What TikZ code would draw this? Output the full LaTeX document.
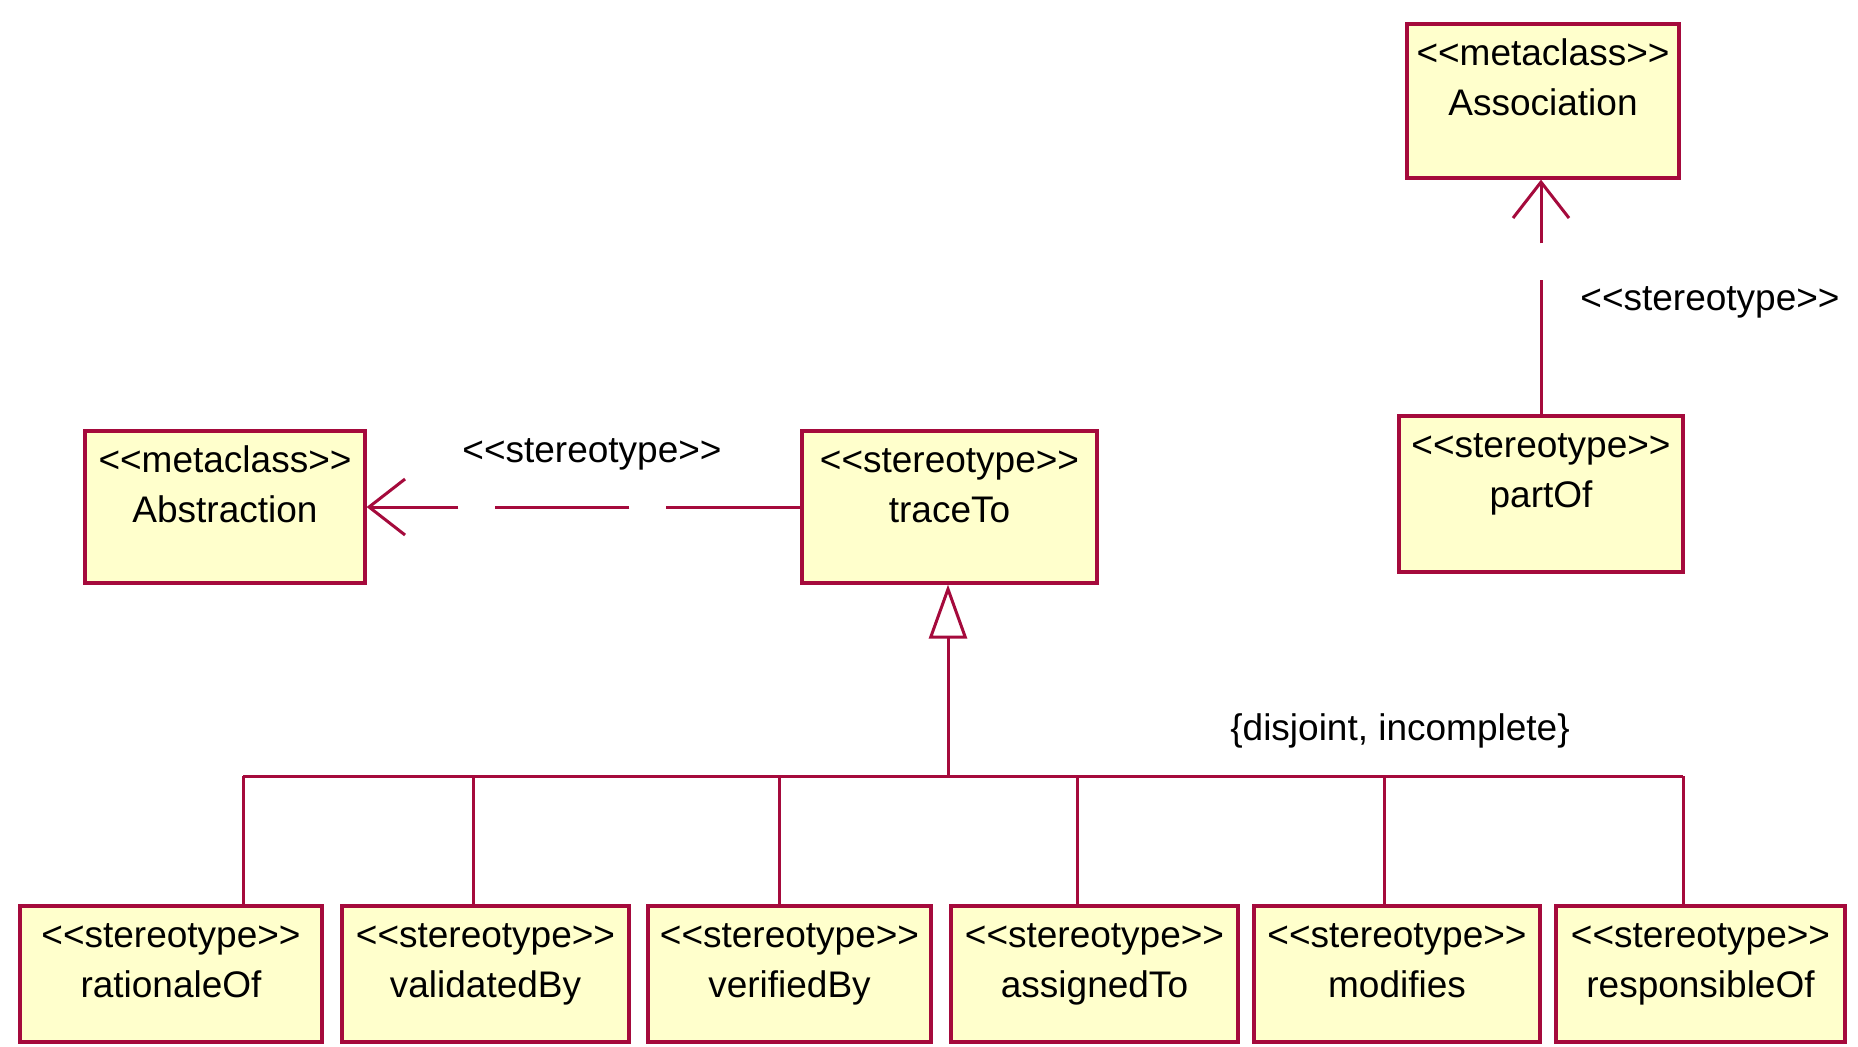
\documentclass[tikz,border=0pt]{standalone}
\usepackage{fontspec}
\setmainfont{Liberation Sans}
\usetikzlibrary{arrows.meta}
\definecolor{umlred}{RGB}{165,10,60}
\definecolor{umlyellow}{RGB}{255,255,204}
\newcommand{\lgl}{<\kern0pt<}
\newcommand{\rgl}{>\kern0pt>}
\tikzset{
  umlbox/.style={draw=umlred, fill=umlyellow, line width=1.6pt, inner sep=0pt, rectangle},
  txt/.style={inner sep=0pt, anchor=base, font=\fontsize{18.5}{22}\selectfont, text=black},
  conn/.style={draw=umlred, line width=1.5pt},
  depline/.style={conn, dash pattern=on 67pt off 18.5pt, -{Straight Barb[length=18pt,width=28pt,line width=1.5pt]}},
  genarrow/.style={conn, -{Triangle[open, length=27pt, width=19pt, line width=1.5pt, fill=white]}}
}
\newcommand{\umlclass}[7]{%
  \node[umlbox, minimum width=#4*0.5pt, minimum height=#5*0.5pt] (#1) at (#2,#3) {};
  \node[txt] (#1-st) at ([yshift=-43*0.5pt]#1.north) {#6};
  \node[txt] (#1-nm) at ([yshift=-93*0.5pt]#1.north) {#7};
}
\begin{document}
\begin{tikzpicture}[x=0.5pt, y=-0.5pt]
\useasboundingbox (0,0) rectangle (1858,1046);

\umlclass{abs}{225}{507}{280}{152}{\lgl metaclass\rgl}{Abstraction}
\umlclass{trace}{949.5}{507}{295}{152}{\lgl stereotype\rgl}{traceTo}
\umlclass{assoc}{1543}{101}{272}{154}{\lgl metaclass\rgl}{Association}
\umlclass{partof}{1541}{494}{284}{156}{\lgl stereotype\rgl}{partOf}

\umlclass{rat}{171}{974}{302}{136}{\lgl stereotype\rgl}{rationaleOf}
\umlclass{val}{485.5}{974}{287}{136}{\lgl stereotype\rgl}{validatedBy}
\umlclass{ver}{789.5}{974}{283}{136}{\lgl stereotype\rgl}{verifiedBy}
\umlclass{asg}{1094.5}{974}{287}{136}{\lgl stereotype\rgl}{assignedTo}
\umlclass{mod}{1397}{974}{286}{136}{\lgl stereotype\rgl}{modifies}
\umlclass{resp}{1700.5}{974}{289}{136}{\lgl stereotype\rgl}{responsibleOf}

% dependency traceTo -> Abstraction
\draw[depline] (trace.west) -- (abs.east);
\node[txt, anchor=center] (lbl1) at (592,454) {\lgl stereotype\rgl};

% dependency partOf -> Association
\draw[depline] (partof.north) -- (partof.north |- assoc.south);
\node[txt, anchor=center] (lbl2) at (1710,302) {\lgl stereotype\rgl};

% generalization tree
\coordinate (b1) at (243,776);
\coordinate (b2) at (473,776);
\coordinate (b3) at (779,776);
\coordinate (bt) at (948,776);
\coordinate (b4) at (1077,776);
\coordinate (b5) at (1384,776);
\coordinate (b6) at (1683,776);
\draw[conn] (b1) -- (b6);
\draw[conn] (b1) -- (b1 |- rat.north);
\draw[conn] (b2) -- (b2 |- val.north);
\draw[conn] (b3) -- (b3 |- ver.north);
\draw[conn] (b4) -- (b4 |- asg.north);
\draw[conn] (b5) -- (b5 |- mod.north);
\draw[conn] (b6) -- (b6 |- resp.north);
\draw[genarrow] (bt) -- (bt |- trace.south);
\node[txt, anchor=center] (cons) at (1400,731) {\{disjoint, incomplete\}};
\end{tikzpicture}
\end{document}
